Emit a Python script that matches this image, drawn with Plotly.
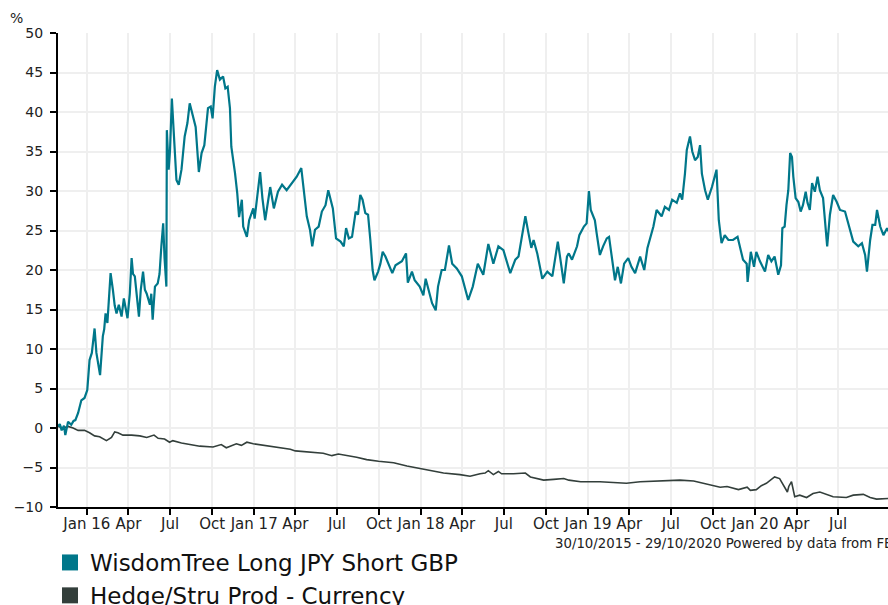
import plotly.graph_objects as go

# ---------------- data ----------------
fund_name = "WisdomTree Long JPY Short GBP"
sector_name = "Hedge/Stru Prod - Currency"

fund_dates = [
    # 2015
    "2015-10-30", "2015-11-03", "2015-11-07", "2015-11-12", "2015-11-15", "2015-11-21",
    "2015-11-28", "2015-12-03", "2015-12-07", "2015-12-13", "2015-12-20", "2015-12-27",
    # 2016
    "2016-01-02", "2016-01-07", "2016-01-12", "2016-01-18", "2016-01-22", "2016-01-30",
    "2016-02-05", "2016-02-08", "2016-02-11", "2016-02-15", "2016-02-18", "2016-02-22",
    "2016-02-27", "2016-03-02", "2016-03-06", "2016-03-11", "2016-03-17", "2016-03-22",
    "2016-03-30", "2016-04-04", "2016-04-08", "2016-04-11", "2016-04-15", "2016-04-19",
    "2016-04-24", "2016-04-28", "2016-05-03", "2016-05-07", "2016-05-11", "2016-05-18",
    "2016-05-21", "2016-05-24", "2016-05-29", "2016-06-04", "2016-06-08", "2016-06-12",
    "2016-06-16", "2016-06-19", "2016-06-23", "2016-06-24", "2016-06-28", "2016-07-01",
    "2016-07-05", "2016-07-10", "2016-07-15", "2016-07-20", "2016-07-26", "2016-08-02",
    "2016-08-08", "2016-08-13", "2016-08-20", "2016-08-26", "2016-09-02", "2016-09-08",
    "2016-09-14", "2016-09-19", "2016-09-22", "2016-09-28", "2016-10-02", "2016-10-07",
    "2016-10-12", "2016-10-18", "2016-10-25", "2016-10-30", "2016-11-04", "2016-11-09",
    "2016-11-12", "2016-11-20", "2016-11-25", "2016-11-29", "2016-12-05", "2016-12-08",
    "2016-12-16", "2016-12-21", "2016-12-30",
    # 2017
    "2017-01-02", "2017-01-09", "2017-01-14", "2017-01-19", "2017-01-25", "2017-02-05",
    "2017-02-13", "2017-02-22", "2017-03-03", "2017-03-13", "2017-03-24", "2017-04-04",
    "2017-04-14", "2017-04-20", "2017-04-26", "2017-05-03", "2017-05-08", "2017-05-14",
    "2017-05-22", "2017-05-29", "2017-06-06", "2017-06-12", "2017-06-17", "2017-06-22",
    "2017-06-29", "2017-07-09", "2017-07-16", "2017-07-21", "2017-07-27", "2017-08-03",
    "2017-08-11", "2017-08-16", "2017-08-21", "2017-08-26", "2017-09-01", "2017-09-07",
    "2017-09-12", "2017-09-17", "2017-09-21", "2017-09-29", "2017-10-04", "2017-10-09",
    "2017-10-15", "2017-10-22", "2017-10-30", "2017-11-06", "2017-11-12", "2017-11-20",
    "2017-11-29", "2017-12-03", "2017-12-12", "2017-12-18", "2017-12-29",
    # 2018
    "2018-01-06", "2018-01-11", "2018-01-17", "2018-01-25", "2018-02-02", "2018-02-07",
    "2018-02-15", "2018-02-22", "2018-03-03", "2018-03-10", "2018-03-20", "2018-03-31",
    "2018-04-14", "2018-04-24", "2018-05-05", "2018-05-17", "2018-05-28", "2018-06-08",
    "2018-06-19", "2018-06-30", "2018-07-15", "2018-07-26", "2018-08-02", "2018-08-09",
    "2018-08-17", "2018-08-24", "2018-08-30", "2018-09-04", "2018-09-12", "2018-09-23",
    "2018-10-04", "2018-10-15", "2018-10-27", "2018-11-04", "2018-11-09", "2018-11-16",
    "2018-11-20", "2018-11-27", "2018-12-08", "2018-12-13", "2018-12-23", "2018-12-29",
    # 2019
    "2019-01-03", "2019-01-07", "2019-01-16", "2019-01-20", "2019-01-27", "2019-02-03",
    "2019-02-11", "2019-02-16", "2019-02-22", "2019-03-01", "2019-03-07", "2019-03-14",
    "2019-03-21", "2019-03-30", "2019-04-06", "2019-04-14", "2019-04-25", "2019-05-04",
    "2019-05-11", "2019-05-19", "2019-05-24", "2019-05-31", "2019-06-11", "2019-06-18",
    "2019-06-27", "2019-07-04", "2019-07-14", "2019-07-21", "2019-07-26", "2019-08-01",
    "2019-08-05", "2019-08-12", "2019-08-17", "2019-08-23", "2019-08-29", "2019-09-03",
    "2019-09-07", "2019-09-14", "2019-09-20", "2019-09-29", "2019-10-04", "2019-10-09",
    "2019-10-14", "2019-10-20", "2019-10-27", "2019-11-04", "2019-11-14", "2019-11-24",
    "2019-12-01", "2019-12-06", "2019-12-14", "2019-12-16", "2019-12-23", "2019-12-30",
    # 2020
    "2020-01-04", "2020-01-12", "2020-01-23", "2020-01-30", "2020-02-06", "2020-02-13",
    "2020-02-21", "2020-02-27", "2020-03-01", "2020-03-06", "2020-03-10", "2020-03-14",
    "2020-03-18", "2020-03-22", "2020-03-25", "2020-03-30", "2020-04-05", "2020-04-10",
    "2020-04-15", "2020-04-21", "2020-04-25", "2020-04-30", "2020-05-05", "2020-05-11",
    "2020-05-17", "2020-05-22", "2020-05-29", "2020-06-02", "2020-06-07", "2020-06-13",
    "2020-06-20", "2020-06-28", "2020-07-05", "2020-07-16", "2020-07-23", "2020-08-03",
    "2020-08-14", "2020-08-22", "2020-08-29", "2020-09-02", "2020-09-09", "2020-09-14",
    "2020-09-20", "2020-09-24", "2020-10-01", "2020-10-08", "2020-10-16", "2020-10-22",
    "2020-10-29",
]

fund_values = [
    # 2015
    0.2, 0.5, -0.3, 0.3, -0.9, 0.8,
    0.4, 0.9, 1.0, 1.9, 3.5, 3.8,
    # 2016
    4.8, 8.6, 9.5, 12.6, 9.5, 6.7,
    11.6, 12.5, 14.5, 13.3, 16.0, 19.6,
    17.5, 15.5, 14.5, 15.6, 14.1, 16.4,
    13.9, 17.0, 21.5, 19.5, 19.2, 17.0,
    14.1, 17.5, 19.8, 17.5, 17.0, 15.6,
    17.0, 13.7, 17.9, 18.3, 19.5, 23.0,
    25.9, 21.5, 17.9, 37.7, 32.7, 35.2,
    41.7, 36.5, 31.4, 30.8, 32.7, 36.9,
    38.6, 41.1, 39.4, 38.1, 32.4, 34.8,
    35.8, 38.6, 40.5, 40.7, 39.2, 43.2,
    45.3, 44.1, 44.5, 43.0, 43.2, 40.5,
    35.6, 32.3, 29.7, 26.7, 28.9, 25.5,
    24.2, 26.3, 27.8,
    # 2017
    26.5, 29.7, 32.4, 29.1, 26.3, 30.5,
    27.8, 29.9, 30.8, 30.1, 31.0, 31.8,
    32.9, 30.1, 26.8, 25.1, 23.0, 25.1,
    25.5, 27.4, 28.2, 30.1, 28.9, 27.8,
    24.0, 23.6, 23.0, 25.3, 24.0, 24.2,
    27.4, 27.0, 29.5, 28.9, 27.2, 27.0,
    23.8, 20.0, 18.7, 19.8, 20.8, 22.3,
    21.7, 20.8, 19.6, 20.6, 20.8, 21.1,
    22.1, 18.4, 19.8, 18.7, 17.9,
    # 2018
    16.8, 18.9, 17.5, 15.8, 14.9, 17.9,
    20.0, 20.0, 23.1, 20.8, 20.2, 19.2,
    16.2, 17.9, 20.8, 19.4, 23.3, 20.8,
    23.0, 22.5, 19.6, 21.3, 21.7, 24.2,
    26.8, 24.6, 22.8, 23.8, 22.1, 18.9,
    19.8, 19.2, 23.6, 20.4, 18.3, 21.7,
    22.1, 21.3, 23.0, 24.4, 25.5, 25.9,
    # 2019
    30.0, 27.6, 26.3, 24.6, 21.9, 23.0,
    24.0, 24.2, 21.5, 18.7, 20.4, 18.3,
    20.8, 21.5, 20.4, 19.6, 21.7, 20.0,
    22.8, 24.6, 25.5, 27.6, 26.8, 28.0,
    27.6, 28.9, 28.5, 29.7, 28.9, 32.2,
    35.2, 36.9, 35.0, 33.9, 34.3, 35.8,
    32.2, 30.1, 28.9, 30.5, 31.6, 32.7,
    26.3, 23.4, 24.4, 23.8, 23.8, 24.2,
    22.5, 21.3, 20.8, 18.5, 22.3, 20.4,
    # 2020
    22.3, 21.1, 19.8, 21.9, 21.1, 21.7,
    19.4, 20.6, 25.3, 25.5, 28.2, 30.1,
    34.8, 34.3, 31.8, 29.1, 28.6, 27.4,
    28.2, 29.9, 28.5, 27.6, 31.0, 29.9,
    31.8, 30.1, 29.1, 25.9, 23.0, 27.0,
    29.5, 28.6, 27.6, 27.4, 25.9, 23.6,
    23.0, 23.4, 21.9, 19.8, 23.8, 25.7,
    25.7, 27.6, 25.5, 24.4, 25.3, 24.6,
    25.6,
]

sector_dates = [
    "2015-10-30", "2015-11-10", "2015-11-21", "2015-12-02", "2015-12-13", "2015-12-27",
    "2016-01-07", "2016-01-18", "2016-01-29", "2016-02-13", "2016-02-24", "2016-03-02",
    "2016-03-09", "2016-03-20", "2016-04-08", "2016-04-26", "2016-05-11", "2016-05-27",
    "2016-06-05", "2016-06-19", "2016-06-30", "2016-07-07", "2016-07-26", "2016-08-13",
    "2016-09-04", "2016-10-03", "2016-10-21", "2016-11-01", "2016-11-23", "2016-12-04",
    "2016-12-16", "2016-12-30",
    "2017-01-21", "2017-02-19", "2017-03-21", "2017-04-01", "2017-05-03", "2017-06-01",
    "2017-06-20", "2017-07-04", "2017-08-13", "2017-09-04", "2017-09-30", "2017-11-02",
    "2017-12-01", "2017-12-30",
    "2018-01-24", "2018-02-19", "2018-03-27", "2018-04-18", "2018-05-10", "2018-05-21",
    "2018-05-28", "2018-06-08", "2018-06-19", "2018-06-26", "2018-07-22", "2018-08-17",
    "2018-08-28", "2018-09-26", "2018-10-18", "2018-11-09", "2018-11-20", "2018-12-16",
    "2019-01-27", "2019-03-26", "2019-04-25", "2019-05-31", "2019-06-22", "2019-07-21",
    "2019-08-20", "2019-09-18", "2019-10-17", "2019-11-01", "2019-11-26", "2019-12-15",
    "2019-12-22",
    "2020-01-04", "2020-01-15", "2020-01-26", "2020-02-13", "2020-02-24", "2020-03-03",
    "2020-03-12", "2020-03-15", "2020-03-21", "2020-03-28", "2020-04-08", "2020-04-23",
    "2020-05-07", "2020-05-22", "2020-06-06", "2020-06-20", "2020-07-19", "2020-08-03",
    "2020-08-25", "2020-09-09", "2020-09-23", "2020-10-11", "2020-10-29",
]

sector_values = [
    0.2, 0.0, 0.2, 0.0, -0.3, -0.3,
    -0.6, -1.0, -1.1, -1.6, -1.2, -0.5,
    -0.6, -0.9, -0.9, -1.0, -1.2, -0.9,
    -1.3, -1.4, -1.8, -1.6, -1.9, -2.1,
    -2.3, -2.4, -2.1, -2.5, -2.0, -2.2,
    -1.8, -2.0,
    -2.2, -2.4, -2.7, -2.9, -3.1, -3.2,
    -3.5, -3.3, -3.7, -4.0, -4.2, -4.4,
    -4.8, -5.1,
    -5.4, -5.7, -5.9, -6.1, -5.8, -5.7,
    -5.4, -5.9, -5.5, -5.8, -5.8, -5.7,
    -6.2, -6.6, -6.5, -6.4, -6.6, -6.8,
    -6.8, -7.0, -6.8, -6.7, -6.7, -6.6,
    -6.7, -7.1, -7.5, -7.4, -7.8, -7.5,
    -7.9,
    -7.8, -7.3, -7.0, -6.2, -6.4, -7.2,
    -8.1, -7.4, -6.8, -8.7, -8.5, -8.8,
    -8.3, -8.1, -8.4, -8.7, -8.8, -8.5,
    -8.4, -8.8, -9.0, -9.0, -8.9,
]

tick_dates = [
    "2016-01-01", "2016-04-01", "2016-07-01", "2016-10-01",
    "2017-01-01", "2017-04-01", "2017-07-01", "2017-10-01",
    "2018-01-01", "2018-04-01", "2018-07-01", "2018-10-01",
    "2019-01-01", "2019-04-01", "2019-07-01", "2019-10-01",
    "2020-01-01", "2020-04-01", "2020-07-01",
]
tick_labels = [
    "Jan 16", "Apr", "Jul", "Oct",
    "Jan 17", "Apr", "Jul", "Oct",
    "Jan 18", "Apr", "Jul", "Oct",
    "Jan 19", "Apr", "Jul", "Oct",
    "Jan 20", "Apr", "Jul",
]
y_ticks = [-10, -5, 0, 5, 10, 15, 20, 25, 30, 35, 40, 45, 50]

period_text = "30/10/2015 - 29/10/2020 Powered by data from FE"

# ---------------- figure ----------------
FUND_COLOR = "#00778a"
SECTOR_COLOR = "#333f3b"
FONT = "Verdana, DejaVu Sans, sans-serif"

W, H = 888, 605
ML, MT, MB = 58, 33, 98
PW, PH = W - ML, H - MT - MB


def px(xw):   # window pixel -> paper x
    return (xw - ML) / PW


def py(yw):   # window pixel -> paper y
    return (MT + PH - yw) / PH


fig = go.Figure()
fig.add_trace(go.Scatter(x=sector_dates, y=sector_values, mode="lines",
                         line=dict(color=SECTOR_COLOR, width=1.6),
                         showlegend=False, hoverinfo="skip"))
fig.add_trace(go.Scatter(x=fund_dates, y=fund_values, mode="lines",
                         line=dict(color=FUND_COLOR, width=2.2),
                         showlegend=False, hoverinfo="skip"))
# legend entries with square swatches
fig.add_trace(go.Scatter(x=[None], y=[None], mode="markers", name=fund_name,
                         marker=dict(symbol="square", size=16, color=FUND_COLOR)))
fig.add_trace(go.Scatter(x=[None], y=[None], mode="markers", name=sector_name,
                         marker=dict(symbol="square", size=16, color=SECTOR_COLOR)))

fig.update_layout(
    width=W, height=H,
    margin=dict(l=ML, r=0, t=MT, b=MB, autoexpand=False),
    paper_bgcolor="white", plot_bgcolor="white",
    font=dict(family=FONT, size=14, color="#222222"),
    showlegend=True,
    legend=dict(
        orientation="v", xref="container", yref="container",
        x=50 / W, y=1 - 541 / H, xanchor="left", yanchor="top",
        font=dict(family=FONT, size=23, color="#111111"),
        bgcolor="rgba(0,0,0,0)", tracegroupgap=0,
        itemclick=False, itemdoubleclick=False,
    ),
    xaxis=dict(
        type="date",
        range=["2015-10-30", "2020-10-18"],
        tickmode="array", tickvals=tick_dates, ticktext=tick_labels,
        showgrid=True, gridcolor="#efefef", gridwidth=2,
        showline=True, linecolor="#000000", linewidth=2,
        ticks="outside", ticklen=6, tickwidth=1.5, tickcolor="#000000",
        tickfont=dict(family=FONT, size=15, color="#222222"),
        ticklabelstandoff=-4,
        zeroline=False, fixedrange=True,
    ),
    yaxis=dict(
        range=[-10, 50],
        tickmode="array", tickvals=y_ticks,
        showgrid=True, gridcolor="#efefef", gridwidth=2,
        showline=True, linecolor="#000000", linewidth=2,
        ticks="outside", ticklen=6, tickwidth=1.5, tickcolor="#000000",
        tickfont=dict(family=FONT, size=14, color="#222222"),
        ticklabelstandoff=4,
        zeroline=False, fixedrange=True,
    ),
    annotations=[
        dict(text="%", xref="paper", yref="paper",
             x=px(16), y=py(18),
             xanchor="center", yanchor="middle", showarrow=False,
             font=dict(family=FONT, size=14, color="#222222")),
        dict(text=period_text, xref="paper", yref="paper",
             x=px(553), y=py(543),
             xanchor="left", yanchor="middle", showarrow=False,
             font=dict(family=FONT, size=13.3, color="#222222")),
    ],
)

# place the figure at the page's top-left corner (no default 8px body margin)
fig.write_html(
    "out.html",
    config={"displayModeBar": False},
    post_script="document.body.style.margin='0';document.body.style.overflow='hidden';",
)
